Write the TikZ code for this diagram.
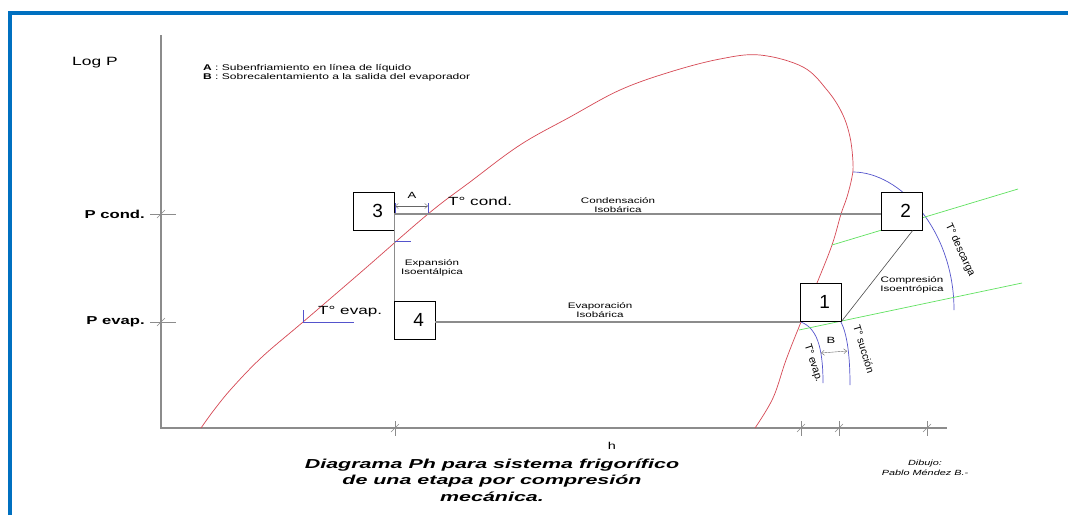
\documentclass[tikz,border=0pt]{standalone}
\usepackage{fontspec}
\setmainfont{Liberation Sans}[FakeStretch=1.45]
\newfontfamily\titlefont{Liberation Sans}[FakeStretch=1.65]
\newfontfamily\plainfont{Liberation Sans}
\usetikzlibrary{arrows.meta}

\definecolor{frameblue}{RGB}{0,112,192}
\definecolor{satred}{RGB}{214,72,84}
\definecolor{isoblue}{RGB}{84,84,204}
\definecolor{isogreen}{RGB}{96,226,96}
\definecolor{axisgray}{RGB}{140,140,140}

\begin{document}
\begin{tikzpicture}[x=1pt,y=-1pt,inner sep=1pt,
    axisline/.style={draw=axisgray,line width=1.3pt},
    isobar/.style={draw=axisgray,line width=1.1pt},
    tickmark/.style={draw=axisgray,line width=0.5pt},
    satline/.style={draw=satred,line width=0.7pt},
    isotherm/.style={draw=isoblue,line width=0.7pt},
    isentrope/.style={draw=isogreen,line width=0.7pt},
    compline/.style={draw=black!70,line width=0.6pt},
    dimarrow/.style={draw=black!60,line width=0.4pt,{Straight Barb[length=3pt,width=5pt]}-{Straight Barb[length=3pt,width=5pt]}},
    numbox/.style={draw,line width=0.9pt,fill=white,text width=19pt,align=right,inner xsep=11pt,inner ysep=0pt,
                   minimum height=38pt,font=\plainfont\fontsize{19}{19}\selectfont},
    twoline/.style={align=center,font=\fontsize{8}{9}\selectfont},
    legend/.style={anchor=west,font=\fontsize{8.3}{9}\selectfont},
    templabel/.style={anchor=west,font=\fontsize{11.8}{12}\selectfont},
    rotlabel/.style={inner sep=0pt,font=\plainfont\fontsize{10.5}{11}\selectfont},
    plabel/.style={anchor=east,font=\bfseries\fontsize{11.5}{12}\selectfont}]

\fill[white] (0,0) rectangle (1068,515);
\useasboundingbox (0,0) rectangle (1068,515);
\draw[frameblue,line width=4pt] (10,515) -- (10,13) -- (1068,13);

\coordinate (ytop)  at (161, 35);
\coordinate (org)   at (161,428);
\coordinate (xend)  at (947,428);
\coordinate (pcond) at (161,214);
\coordinate (pevap) at (161,322);

\draw[axisline] (ytop) -- (org) -- (xend);
\foreach \y in {214,322} {
  \draw[tickmark] (150,\y) -- (176,\y);
  \draw[tickmark] (157,\y+4) -- (165,\y-4);
}
\foreach \x in {395,801,839,927} {
  \draw[tickmark] (\x,421) -- (\x,436);
  \draw[tickmark] (\x-4,432) -- (\x+4,424);
}

\draw[satline] plot[smooth,tension=0.6] coordinates {
  (201,428) (214,410) (232,388) (262,357) (303,322) (360,273) (428,214) (470,182)
  (520,145) (570,117) (620, 90) (670, 72) (720, 59) (760, 55) (803, 67) (827, 90)
  (842,113) (850,137) (853,163) (852,177) (847,197) (841,214) (832,245) (817,283)
  (801,322) (786,360) (773,398) (755,428)};

\draw[isotherm] (853,172) .. controls (900,172) and (954,230) .. (954,310);
\draw[isotherm] (801,322) .. controls (816,328) and (823,345) .. (823,383);
\draw[isotherm] (841,322) .. controls (846,332) and (850,350) .. (850,385);
\draw[isotherm] (395,203) -- (395,214);
\draw[isotherm] (428,203) -- (428,214);
\draw[isotherm] (395,241) -- (411,241);
\draw[isotherm] (303,310) -- (303,322) -- (354,322);

\draw[isentrope] (832,245) -- (1018,189);
\draw[isentrope] (799,330) -- (1022,283);

\node[numbox] (n3) at (373.5,211) {3};
\node[numbox] (n2) at (901.5,211) {2};
\node[numbox] (n4) at (414.5,320) {4};
\node[numbox] (n1) at (820.5,302) {1};

\draw[isobar]   (n3.east |- pcond) -- (n2.west |- pcond);
\draw[isobar]   (n4.east |- pevap) -- (n1.south west |- pevap);
\draw[isobar]   (n3.east |- pcond) -- (n3.east |- n4.north);
\draw[compline] (n1.south east) -- (n2.-60);

\coordinate (a3)    at (395,206);
\coordinate (acond) at (428,206);
\coordinate (bevap) at (821,353);
\coordinate (bsuc)  at (847,351);
\draw[dimarrow] (a3) -- (acond);
\draw[dimarrow] (bevap) -- (bsuc);

\node[anchor=west,font=\fontsize{12}{12}\selectfont] (logp) at ( 71, 63) {Log P};
\node[legend]    (lega) at (202, 68) {\textbf{A} : Subenfriamiento en línea de líquido};
\node[legend]    (legb) at (202, 77) {\textbf{B} : Sobrecalentamiento a la salida del evaporador};
\node[plabel]    (pcl)  at (146,214) {P cond.};
\node[plabel]    (pel)  at (146,322) {P evap.};
\node[font=\fontsize{9}{9}\selectfont]   (alab) at (412,195) {A};
\node[font=\fontsize{9}{9}\selectfont]   (blab) at (831,340) {B};
\node[font=\fontsize{10}{10}\selectfont] (hlab) at (612,446) {h};
\node[templabel] (tcond) at (447,201) {T° cond.};
\node[templabel] (tevap) at (317,312) {T° evap.};
\node[twoline]   (condl) at (618,205.5) {Condensación\\Isobárica};
\node[twoline]   (evapl) at (600,310.5) {Evaporación\\Isobárica};
\node[twoline]   (expl)  at (432,267.5) {Expansión\\Isoentálpica};
\node[twoline]   (compl) at (912,284.5) {Compresión\\Isoentrópica};
\node[rotlabel,rotate=-72] (tevr) at (813,363) {T° evap.};
\node[rotlabel,rotate=-73] (tsuc) at (864,349) {T° succión};
\node[rotlabel,rotate=-65] (tdes) at (960,250) {T° descarga};
\node[align=center,font=\titlefont\bfseries\itshape\fontsize{13}{16.5}\selectfont] (title) at (492,480)
  {Diagrama Ph para sistema frigorífico\\de una etapa por compresión\\mecánica.};
\node[align=center,font=\itshape\fontsize{7.5}{9.5}\selectfont] (autor) at (925,468) {Dibujo:\\Pablo Méndez B.-};
\end{tikzpicture}
\end{document}
